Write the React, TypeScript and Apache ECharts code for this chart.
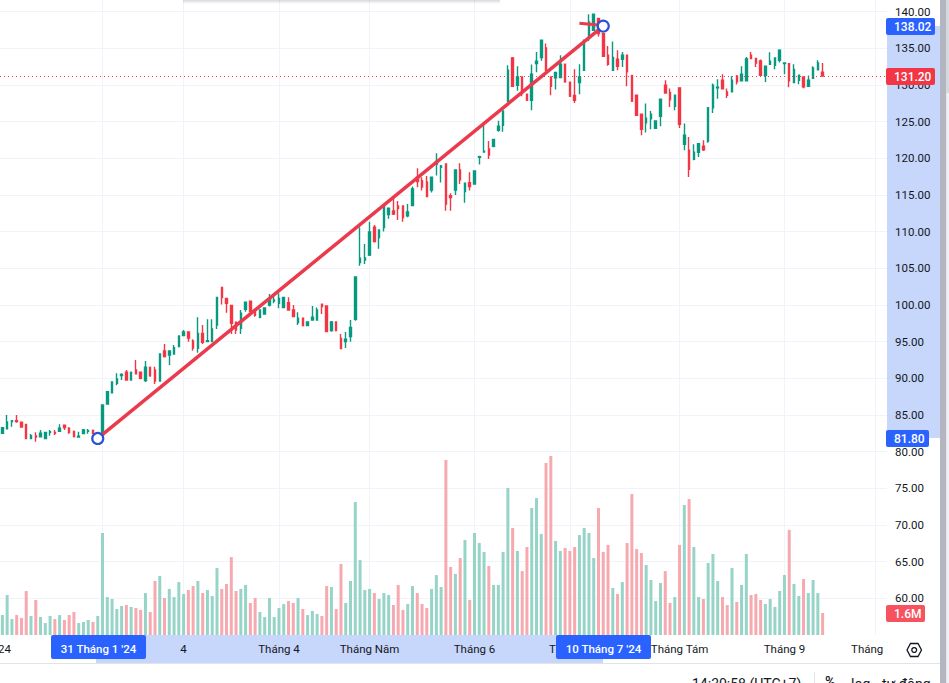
import React, { useEffect, useRef } from "react";
import * as echarts from "echarts";

const FONT = "Roboto, 'Noto Sans', sans-serif";
const TEXT = "#131722";
const UP = "#089981";
const DOWN = "#F23645";
const TREND = "#EA3A4C";
const BLUE = "#2962FF";
const RING = "#2A52D8";
const BAND = "#C7D6FB";
const GRID = "#F0F3FA";

const opens = [
  82.5,83.13,84.09,84.22,84.0,83.72,81.77,82.13,82.04,81.77,
  82.59,82.63,82.77,83.59,83.18,82.77,82.0,82.45,82.77,82.91,
  82.2,82.3,86.5,88.04,89.32,90.36,90.82,89.77,91.13,90.82,
  89.68,91.5,91.13,89.63,93.72,93.18,93.32,94.32,95.82,96.32,
  95.09,94.09,96.13,95.0,95.0,97.27,102.4,100.9,99.95,97.64,
  96.82,99.4,100.5,99.23,98.32,98.77,100,100.54,100.23,99.63,
  100.32,99.32,97.59,98.2,97.18,97.95,97.95,100.09,99.86,96.5,
  97.68,95.45,95,95.68,98.05,105.77,106.14,106.82,110.59,109.18,
  110.55,112.32,112.82,113.5,113.5,112.14,113.55,117.41,116.95,116.77,
  115.68,119.2,118.77,119.23,114.91,115.68,118.41,115.45,116.68,116.5,
  120.14,120.86,121.26,121.64,123.82,124.5,127.78,133.68,129.96,131.1,
  128.73,127.91,132.91,133.73,135.05,131.1,130.96,131,132.82,130.37,
  128.55,130.32,132,136.64,137.46,139.05,137,134.05,132,133.5,
  133.5,134.05,131.28,128.6,126,124.82,125.37,124.1,125.73,129.96,
  128.96,127.1,129.6,121.91,121.1,119.87,120.82,121.64,122.32,126.87,
  129.6,130.64,129.05,129.05,131.19,130.55,130.55,134.05,133.6,133.28,
  131.32,132.82,132.69,133.37,132.91,132.91,130.32,130.64,131.1,129.82,
  130.91,132.05,131.73,
];
const highs = [
  83.32,85.0,84.32,85.0,84.0,83.8,82.41,82.63,82.95,82.7,
  82.95,82.95,83.72,83.59,83.32,82.77,82.72,83.09,83.09,82.91,
  82.6,86.4,88.2,89.6,90.68,90.68,91.13,90.82,92.5,90.82,
  92.36,91.5,91.59,93.32,94.68,93.72,94.54,95.77,96.59,96.32,
  95.32,98.32,97.27,98.04,98.04,101.04,102.4,100.9,99.95,97.64,
  99.32,100.36,100.5,99.23,99.32,99.59,101.5,101.36,101.59,101.04,
  101.04,100,99,98.2,97.68,99.86,99.64,100.09,99.86,97.82,
  97.68,96.05,96.32,97.95,103.82,110.59,108.32,111.36,110.91,110.23,
  113.5,113.18,114.55,114.18,113.5,113.77,116.14,118.64,117.41,117.59,
  117.41,120.68,119.09,119.23,115.23,118.41,119.32,116.59,118.09,118.27,
  120.36,124.8,122.36,122.55,125.1,126.46,132.68,133.8,132.55,131.1,
  128.73,132.78,134.5,136.1,135.64,131.1,131.69,134.05,132.82,130.37,
  132.14,132.82,136.2,139.64,139.64,139.1,137,135.32,135.91,134.73,
  134.5,134.05,131.28,128.6,126,127.46,126.46,125.1,128.05,130.64,
  129.5,128.6,129.65,124.73,122.91,121.91,122,122.46,126.91,130.19,
  130.78,131.46,129.5,131.19,131.37,132.55,133.82,134.5,133.6,133.46,
  132.55,134.46,133.68,134.87,133,132.91,132.82,131.32,131.19,131.28,
  132.55,133.37,133,
];
const lows = [
  82.41,83.09,83.41,83.95,83.36,81.77,81.77,81.36,82.04,81.77,
  82.18,82.27,82.72,82.95,82.45,82.04,82.0,82.45,82.45,82.5,
  81.9,82.3,86.5,88.04,89.04,89.77,89.77,89.77,90.63,89.86,
  89.5,90.32,89.22,89.54,92.82,91.82,93.32,94.32,95.82,95.0,
  93.77,93.5,94.68,94.95,95.0,96.72,100.05,98.95,96.04,96.04,
  96.04,99.09,99.09,98.4,98.2,98.77,99.8,100.23,99.54,99.63,
  99.32,98.41,97.27,97.18,97.18,97.95,97.95,98.77,96.36,96.36,
  96.5,94.05,94.14,95,97.86,105.36,105.59,106.68,108.5,107.68,
  110,111.77,112.27,111.59,111.36,111.95,113.55,116.05,115.59,114.77,
  115.32,117.64,116.68,112.86,112.86,115,116.5,113.95,115.59,116.41,
  119.14,120.77,119.9,121.5,123.6,123.6,127.78,129.82,129.19,128.46,
  127.91,126.55,131.73,133.28,132,128.6,129.37,131,130.41,128.46,
  127.55,128.73,132,136,137.46,136.6,133.91,132.6,132,132,
  132.46,129.82,127.78,125.87,123.14,123.5,123.96,124.1,124.37,128.91,
  127,126.55,124.14,121.1,117.46,119.73,120.19,121,122.1,126.18,
  128.1,129.46,128.23,129.05,130.05,130.55,130.55,133.5,132.46,131.32,
  130.41,132.82,132.14,133.05,131.46,129.69,130.23,130.1,129.55,129.82,
  130.91,132.05,131.2,
];
const closes = [
  83.27,84.04,84.22,84.09,83.36,81.77,82.18,82.0,82.5,82.63,
  82.72,82.5,83.18,83.27,82.59,82.04,82.09,82.95,82.86,82.5,
  82.5,86.36,88.18,89.5,89.9,90.54,89.77,90.82,90.63,90.0,
  91.5,90.32,89.63,93.32,92.95,93.72,94.18,95.77,96.32,95.5,
  94.13,96.13,94.91,95.13,96.72,101.04,101.0,100.23,97.5,96.59,
  98.86,100.36,99.09,98.6,99.32,99.59,100.9,100.68,100.9,101.04,
  99.32,98.41,98.18,97.18,97.68,98.32,99.32,99.77,96.36,97.68,
  96.5,94.05,95.32,96.95,103.82,106.36,106.41,109.95,108.64,110.23,
  113.5,113.18,112.41,113.14,111.91,112.68,115.82,116.82,116.09,114.77,
  117.41,119.55,118.95,113.77,114.64,118.41,117.05,116.59,116.14,118.27,
  120.23,120.95,120.45,122.55,124.37,126.46,132,129.82,131.1,128.82,
  127.91,131.46,133.23,136.1,132,129.82,131.69,132.82,130.41,128.46,
  127.91,131.1,135.64,138.6,139.64,137,133.91,132.82,133.73,132.55,
  134.05,131.78,127.78,125.87,123.96,125.46,126,125.1,128.05,128.91,
  127.96,128.6,124.64,123.14,118.5,120.82,122,121.14,126.91,129.96,
  129.69,129.46,128.6,130.64,130.41,131.46,133.55,133.6,133,131.32,
  132.55,133.23,133.68,134.73,133,130.55,132.1,131.32,129.73,130.64,
  132.32,133,131.2,
];
const volumes = [
  1.45,2.91,1.16,1.45,1.24,3.2,1.38,2.55,1.31,0.87,
  1.38,1.16,1.45,1.09,1.45,1.67,0.87,0.95,1.09,0.95,
  1.38,7.42,2.76,2.62,1.89,2.11,2.18,2.04,1.96,1.82,
  3.05,1.67,3.93,4.29,2.69,3.35,2.76,3.85,2.98,3.27,
  3.56,3.93,3.05,3.27,2.84,4.87,3.35,3.71,5.67,3.2,
  3.35,3.64,2.33,2.69,1.67,1.31,2.69,1.31,1.96,2.25,
  2.47,2.33,2.69,1.89,1.45,1.75,1.53,1.38,3.56,3.49,
  1.89,5.16,2.33,3.93,9.67,5.45,3.27,3.35,3.05,2.62,
  3.05,2.91,2.18,3.64,1.82,2.25,3.56,3.05,2.25,1.96,
  3.35,4.36,3.49,12.73,4.95,4.44,5.6,6.91,2.55,7.42,
  6.69,6.04,5.02,3.64,3.64,6.04,10.69,7.78,6.11,4.65,
  6.4,9.24,9.96,7.35,12.51,13.02,6.84,6.11,6.33,6.11,
  6.4,7.27,7.78,7.42,5.6,9.24,6.04,6.55,3.42,2.98,
  3.85,6.69,10.25,6.25,5.96,5.09,4,2.47,3.78,4.65,
  2.33,2.76,6.55,9.45,9.89,6.4,2.76,2.62,5.24,5.89,
  3.93,2.76,2.18,4.87,2.4,3.64,5.89,2.91,2.98,2.55,
  2.25,2.62,2.04,3.2,4.36,7.64,3.71,2.84,4.07,3.05,
  4,3.05,1.6,
];

const slotCount = 186;
const timeTickIndex = [38, 58, 77, 99, 119, 142, 164, 183];
const timeTickLabels = ["4", "Tháng 4", "Tháng Năm", "Tháng 6", "Tháng 7", "Tháng Tám", "Tháng 9", "Tháng 10"];
const gridIndex = [21, 38, 58, 77, 99, 119, 142, 164, 183];

const lastPrice = 131.2;
const trendStartIndex = 20;
const trendStartPrice = 81.8;
const trendEndIndex = 126;
const trendEndPrice = 138.02;
const penIndex = [121, 125];
const penPrice = [138.4, 138.16];

const categories = Array.from({ length: slotCount }, (_, i) => {
  const k = timeTickIndex.indexOf(i);
  return k >= 0 ? timeTickLabels[k] : "";
});

const tag = (x: number, y: number, w: number, h: number, color: string, text: string) => [
  { type: "rect", z: 50, shape: { x, y, width: w, height: h, r: 2 }, style: { fill: color } },
  {
    type: "text",
    z: 51,
    style: {
      x: x + 8,
      y: y + h / 2,
      text,
      fill: "#fff",
      font: `500 12px ${FONT}`,
      textAlign: "left",
      textVerticalAlign: "middle",
    },
  },
];

const dateTag = (x: number, text: string) => [
  { type: "rect", z: 50, shape: { x, y: 635, width: 95, height: 24, r: 2 }, style: { fill: BLUE } },
  {
    type: "text",
    z: 51,
    style: {
      x: x + 47.5,
      y: 649,
      text,
      fill: "#fff",
      font: `500 11.5px ${FONT}`,
      textAlign: "center",
      textVerticalAlign: "middle",
    },
  },
];

const plainText = (x: number, y: number, text: string, font = `14px ${FONT}`) => ({
  type: "text",
  z: 20,
  style: { x, y, text, fill: TEXT, font, textAlign: "left", textVerticalAlign: "top" },
});

export default function App() {
  const ref = useRef<HTMLDivElement>(null);
  useEffect(() => {
    document.body.style.margin = "0";
    const chart = echarts.init(ref.current!, undefined, { renderer: "svg" });
    chart.setOption({
      animation: false,
      backgroundColor: "#fff",
      grid: { left: 0, top: 0, right: 62, bottom: 48, containLabel: false },
      xAxis: {
        type: "category",
        data: categories,
        z: 5,
        axisLine: { show: false },
        axisTick: { show: false },
        splitLine: { show: false },
        axisLabel: {
          interval: (_i: number, v: string) => v !== "",
          margin: 8,
          color: TEXT,
          fontFamily: FONT,
          fontSize: 11.5,
          hideOverlap: false,
        },
      },
      yAxis: [
        {
          type: "value",
          position: "right",
          min: 55,
          max: 141.58,
          interval: 5,
          z: 0,
          axisLine: { show: false },
          axisTick: { show: false },
          splitLine: { show: true, showMinLine: false, showMaxLine: false, lineStyle: { color: GRID, width: 1 } },
          axisLabel: {
            showMinLabel: false,
            showMaxLabel: false,
            margin: 8,
            color: TEXT,
            fontFamily: FONT,
            fontSize: 11.5,
            formatter: (v: number) => v.toFixed(2),
          },
        },
        { type: "value", show: false, min: 0, max: 46.18, splitLine: { show: false } },
      ],
      series: [
        {
          type: "line",
          name: "grid",
          data: [],
          silent: true,
          z: 1,
          markLine: {
            silent: true,
            symbol: "none",
            z: 1,
            label: { show: false },
            lineStyle: { color: GRID, width: 1, type: "solid" },
            data: gridIndex.map((i) => ({ xAxis: i })),
          },
        },
        {
          type: "bar",
          name: "Volume",
          yAxisIndex: 1,
          barWidth: 3,
          z: 2,
          silent: true,
          data: volumes.map((v, i) => ({
            value: v,
            itemStyle: { color: closes[i] < opens[i] ? "#F6A9AF" : "#97D4C8" },
          })),
        },
        {
          type: "candlestick",
          name: "Price",
          barWidth: 2,
          z: 3,
          silent: true,
          itemStyle: { color: UP, color0: DOWN, borderColor: UP, borderColor0: DOWN, borderWidth: 1.4 },
          data: opens.map((o, i) => [o, closes[i], lows[i], highs[i]]),
          markLine: {
            silent: true,
            symbol: "none",
            label: { show: false },
            lineStyle: { color: DOWN, width: 1, type: [1, 3] },
            data: [{ yAxis: lastPrice }],
          },
        },
        {
          type: "line",
          name: "Pen",
          z: 4,
          silent: true,
          connectNulls: true,
          showSymbol: false,
          lineStyle: { color: TREND, width: 3 },
          data: categories.map((_, i) => (i === penIndex[0] ? penPrice[0] : i === penIndex[1] ? penPrice[1] : null)),
        },
        {
          type: "line",
          name: "Trend",
          z: 4,
          silent: true,
          connectNulls: true,
          showAllSymbol: true,
          symbol: "circle",
          symbolSize: 11,
          itemStyle: { color: "#fff", borderColor: RING, borderWidth: 2.2 },
          lineStyle: { color: TREND, width: 3.5 },
          data: categories.map((_, i) =>
            i === trendStartIndex ? trendStartPrice : i === trendEndIndex ? trendEndPrice : null
          ),
        },
      ],
      graphic: [
        { type: "rect", z: 6, shape: { x: 885, y: 636, width: 55, height: 26 }, style: { fill: "#fff" } },
        { type: "rect", z: -1, shape: { x: 887, y: 26, width: 53, height: 412 }, style: { fill: BAND } },
        { type: "rect", z: 1, shape: { x: 96, y: 635, width: 507, height: 28 }, style: { fill: BAND } },
        {
          type: "rect",
          z: 30,
          shape: { x: 183, y: 0, width: 317, height: 4 },
          style: {
            fill: new echarts.graphic.LinearGradient(0, 0, 0, 1, [
              { offset: 0, color: "rgba(120,123,134,0.28)" },
              { offset: 1, color: "rgba(120,123,134,0)" },
            ]),
          },
        },
        { type: "rect", z: 30, shape: { x: 0, y: 663, width: 940, height: 1 }, style: { fill: "#E0E3EB" } },
        { type: "rect", z: 30, shape: { x: 814, y: 672, width: 1, height: 11 }, style: { fill: "#E0E3EB" } },
        { type: "rect", z: 30, shape: { x: 940, y: 0, width: 6.5, height: 683 }, style: { fill: "#B3B6C1" } },
        { type: "rect", z: 30, shape: { x: 946.5, y: 0, width: 2.5, height: 93 }, style: { fill: "#D6D8DF" } },
        { type: "rect", z: 30, shape: { x: 946.5, y: 93, width: 2.5, height: 590 }, style: { fill: "#F0F1F4" } },
        {
          type: "polygon",
          z: 30,
          shape: {
            points: [
              [907, 650],
              [910.5, 643.5],
              [918, 643.5],
              [921.5, 650],
              [918, 656.5],
              [910.5, 656.5],
            ],
          },
          style: { fill: "#fff", stroke: TEXT, lineWidth: 1.3 },
        },
        { type: "circle", z: 31, shape: { cx: 914.2, cy: 650, r: 2.4 }, style: { fill: "#fff", stroke: TEXT, lineWidth: 1.3 } },
        {
          type: "text",
          z: 7,
          style: {
            x: 11,
            y: 649,
            text: "2024",
            fill: TEXT,
            font: `11.5px ${FONT}`,
            textAlign: "right",
            textVerticalAlign: "middle",
          },
        },
        plainText(692, 677, "14:30:58 (UTC+7)"),
        plainText(825, 675, "%", `500 14px ${FONT}`),
        plainText(851, 677, "log"),
        plainText(882, 677, "tự động"),
        ...tag(886, 18, 49, 17, BLUE, "138.02"),
        ...tag(886, 68, 49, 17, DOWN, "131.20"),
        ...tag(886, 430, 43, 17, BLUE, "81.80"),
        ...tag(886, 605, 39, 17, "#F7525F", "1.6M"),
        ...dateTag(51, "31 Tháng 1 '24"),
        ...dateTag(556, "10 Tháng 7 '24"),
      ],
    });
    return () => chart.dispose();
  }, []);
  return <div ref={ref} style={{ position: "fixed", left: 0, top: 0, width: 949, height: 683, overflow: "hidden" }} />;
}
